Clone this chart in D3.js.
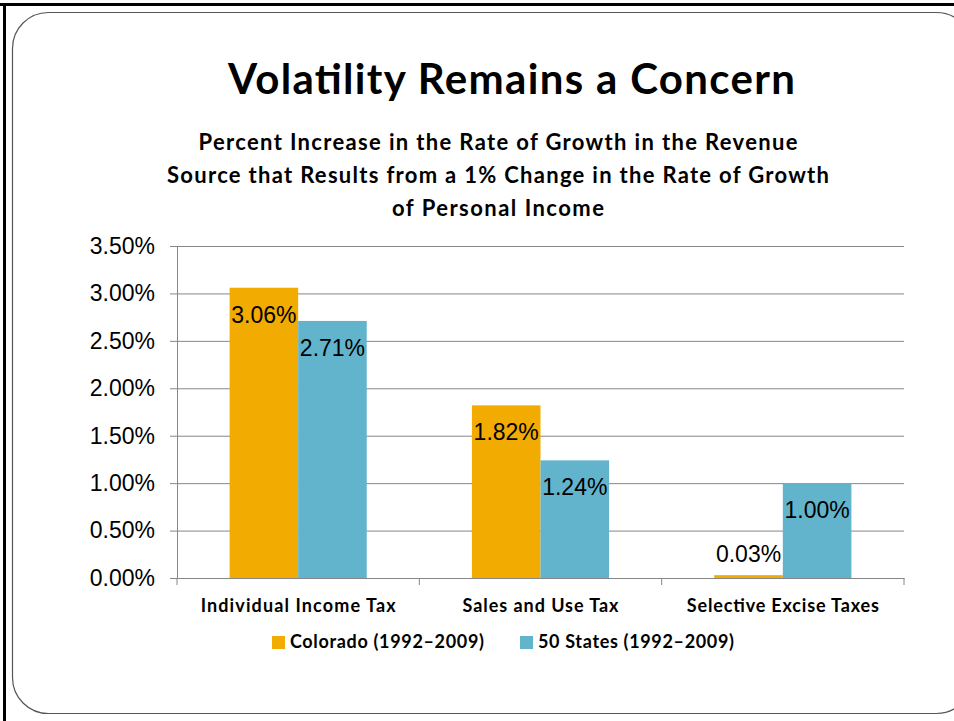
<!DOCTYPE html>
<html>
<head>
<meta charset="utf-8">
<script src="https://cdn.jsdelivr.net/npm/d3@7"></script>
<style>
  body { margin: 0; background: #fff; }
  svg { display: block; }
</style>
</head>
<body>
<div id="chart"></div>
<script>
const width = 954;
const height = 721;
const margin = {top: 246, right: 50, bottom: 143, left: 177};

const categories = ['Individual Income Tax', 'Sales and Use Tax', 'Selective Excise Taxes'];
const seriesNames = ['Colorado (1992\u20132009)', '50 States (1992\u20132009)'];
const colorado = [3.06, 1.82, 0.03];
const states50 = [2.71, 1.24, 1.00];
const yTicks = [0, 0.5, 1, 1.5, 2, 2.5, 3, 3.5];
const colors = ['#f2ab00', '#62b4cc'];

const data = categories.map((c, i) => ({cat: c, values: [colorado[i], states50[i]]}));

// Calibri is not available, so stretch Lato to the widths in the original slide
const fitWidths = {
  'Volatility Remains a Concern': 567,
  'Percent Increase in the Rate of Growth in the Revenue': 599,
  'Source that Results from a 1% Change in the Rate of Growth': 662,
  'of Personal Income': 212,
  'Individual Income Tax': 195,
  'Sales and Use Tax': 156,
  'Selective Excise Taxes': 192,
  'Colorado (1992\u20132009)': 194,
  '50 States (1992\u20132009)': 196
};
const fit = sel => sel
  .attr('textLength', function() { return fitWidths[this.textContent]; })
  .attr('lengthAdjust', 'spacing');

const svg = d3.select('#chart').append('svg')
  .attr('width', width)
  .attr('height', height);

// slide frame
svg.append('line').attr('x1', 0).attr('x2', width).attr('y1', 4.5).attr('y2', 4.5)
  .attr('stroke', '#000').attr('stroke-width', 3);
svg.append('line').attr('x1', 4.5).attr('x2', 4.5).attr('y1', 3).attr('y2', height)
  .attr('stroke', '#000').attr('stroke-width', 3);
svg.append('rect')
  .attr('x', 12.5).attr('y', 12.5).attr('width', 960).attr('height', 701)
  .attr('rx', 36).attr('ry', 36)
  .attr('fill', 'none').attr('stroke', '#555').attr('stroke-width', 1.2);

svg.append('text')
  .attr('x', 511.5).attr('y', 94)
  .attr('text-anchor', 'middle')
  .style('font-family', 'Lato, sans-serif')
  .style('font-weight', 'bold')
  .style('font-size', '42px')
  .text('Volatility Remains a Concern')
  .call(fit);

const subtitle = [
  'Percent Increase in the Rate of Growth in the Revenue',
  'Source that Results from a 1% Change in the Rate of Growth',
  'of Personal Income'
];
svg.append('g').selectAll('text')
  .data(subtitle)
  .join('text')
  .attr('x', 498)
  .attr('y', (d, i) => 150 + i * 33)
  .attr('text-anchor', 'middle')
  .style('font-family', 'Lato, sans-serif')
  .style('font-weight', 'bold')
  .style('font-size', '22px')
  .text(d => d)
  .call(fit);

const x0 = d3.scaleBand()
  .domain(categories)
  .range([margin.left, width - margin.right])
  .padding(0);

const x1 = d3.scaleBand()
  .domain(seriesNames)
  .range([x0.bandwidth() * 0.217, x0.bandwidth() * 0.783])
  .padding(0);

const y = d3.scaleLinear()
  .domain([0, 3.5])
  .range([height - margin.bottom, margin.top]);

// gridlines + y axis
svg.append('g')
  .attr('transform', `translate(${margin.left},0)`)
  .call(d3.axisLeft(y).tickValues(yTicks).tickSize(7).tickFormat(d => d3.format('.2f')(d) + '%'))
  .call(g => g.select('.domain').attr('stroke', '#868686'))
  .call(g => g.selectAll('.tick line').attr('stroke', '#868686'))
  .call(g => g.selectAll('.tick').append('line')
    .attr('x1', 0).attr('x2', width - margin.right - margin.left)
    .attr('stroke', '#868686'))
  .call(g => g.selectAll('.tick text')
    .attr('x', -22)
    .attr('fill', '#000')
    .style('font-family', 'Liberation Sans, Arial, sans-serif')
    .style('font-size', '23px'));

// bars
const groups = svg.append('g').selectAll('g')
  .data(data)
  .join('g')
  .attr('transform', d => `translate(${x0(d.cat)},0)`);

groups.selectAll('rect')
  .data(d => d.values.map((v, i) => ({key: seriesNames[i], v, i})))
  .join('rect')
  .attr('x', d => x1(d.key))
  .attr('y', d => y(d.v))
  .attr('width', x1.bandwidth())
  .attr('height', d => y(0) - y(d.v))
  .attr('fill', d => colors[d.i]);

groups.selectAll('text')
  .data(d => d.values.map((v, i) => ({key: seriesNames[i], v, i})))
  .join('text')
  .attr('x', d => x1(d.key) + x1.bandwidth() / 2)
  .attr('y', d => (y(0) - y(d.v) < 30) ? y(d.v) - 13 : y(d.v) + 35)
  .attr('text-anchor', 'middle')
  .style('font-family', 'Liberation Sans, Arial, sans-serif')
  .style('font-size', '23px')
  .text(d => d3.format('.2f')(d.v) + '%');

// x axis
svg.append('g')
  .attr('transform', `translate(0,${y(0)})`)
  .call(d3.axisBottom(x0).tickSize(0).tickSizeOuter(0))
  .call(g => g.select('.domain').attr('stroke', '#868686'))
  .call(g => g.selectAll('.tick text')
    .attr('y', 34)
    .attr('dy', null)
    .attr('fill', '#000')
    .style('font-family', 'Lato, sans-serif')
    .style('font-weight', 'bold')
    .style('font-size', '18px')
    .call(fit));

svg.append('g').selectAll('line')
  .data(categories.concat(['end']))
  .join('line')
  .attr('x1', (d, i) => i < categories.length ? x0(d) : x0.range()[1])
  .attr('x2', (d, i) => i < categories.length ? x0(d) : x0.range()[1])
  .attr('y1', y(0))
  .attr('y2', y(0) + 7)
  .attr('stroke', '#868686');

// legend
const legendX = [272, 520];
const legend = svg.append('g').selectAll('g')
  .data(seriesNames)
  .join('g')
  .attr('transform', (d, i) => `translate(${legendX[i]},636)`);

legend.append('rect')
  .attr('width', 13).attr('height', 13)
  .attr('fill', (d, i) => colors[i]);

legend.append('text')
  .attr('x', 18).attr('y', 12)
  .style('font-family', 'Lato, sans-serif')
  .style('font-weight', 'bold')
  .style('font-size', '18px')
  .text(d => d)
  .call(fit);
</script>
</body>
</html>
